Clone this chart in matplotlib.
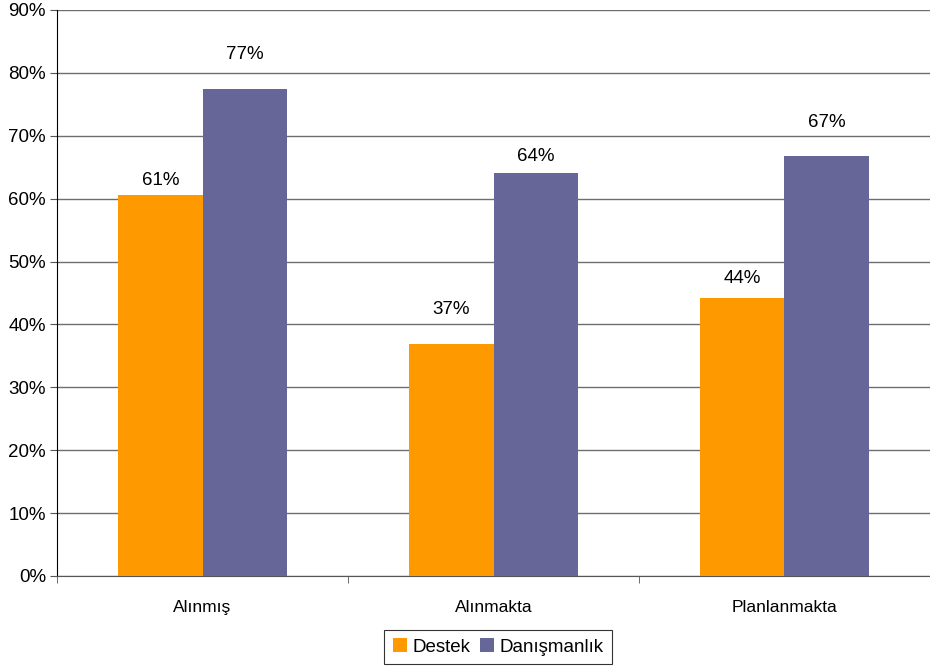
import matplotlib
matplotlib.use("Agg")
import matplotlib.pyplot as plt
import numpy as np

plt.rcParams['font.family'] = ['Liberation Sans', 'DejaVu Sans']

categories = ['Alınmış', 'Alınmakta', 'Planlanmakta']
destek = [60.6, 36.9, 44.2]
danismanlik = [77.4, 64.1, 66.8]
destek_labels = ['61%', '37%', '44%']
danismanlik_labels = ['77%', '64%', '67%']

# gap (in points) between bar top and label, Excel put them unevenly
destek_gap = [4, 19, 8]
danismanlik_gap = [19, 6, 18]

fig = plt.figure(figsize=(9.3, 6.71), dpi=100)
ax = fig.add_axes([57 / 930, 95 / 671, 873 / 930, 566 / 671])

x = np.arange(len(categories))
w = 0.289
b1 = ax.bar(x - w / 2, destek, w, color='#FF9900', label='Destek', zorder=3)
b2 = ax.bar(x + w / 2, danismanlik, w, color='#666699', label='Danışmanlık', zorder=3)

for rect, lab, g in zip(b1, destek_labels, destek_gap):
    ax.annotate(lab, (rect.get_x() + rect.get_width() / 2, rect.get_height()),
                xytext=(0, g), textcoords='offset points', ha='center', va='bottom',
                fontsize=13.5)
for rect, lab, g in zip(b2, danismanlik_labels, danismanlik_gap):
    ax.annotate(lab, (rect.get_x() + rect.get_width() / 2, rect.get_height()),
                xytext=(0, g), textcoords='offset points', ha='center', va='bottom',
                fontsize=13.5)

ax.set_ylim(0, 90)
# one category = 294 px, axes runs past the right edge of the image
ax.set_xlim(-0.5, -0.5 + 873 / 294)
ax.set_yticks(np.arange(0, 91, 10))
ax.set_yticklabels([f'{v}%' for v in range(0, 91, 10)], fontsize=13.5)
ax.set_xticks(x)
ax.set_xticklabels(categories, fontsize=12.5)
ax.set_xticks(np.arange(-0.5, 3, 1), minor=True)
ax.tick_params(axis='x', which='major', length=0, pad=17)
ax.tick_params(axis='x', which='minor', length=5, color='#555555')
ax.tick_params(axis='y', length=5, color='#555555', pad=3)
ax.grid(axis='y', color='#6e6e6e', linewidth=1, zorder=0)
for s in ['top', 'right']:
    ax.spines[s].set_visible(False)
ax.spines['left'].set_color('#000000')
ax.spines['bottom'].set_color('#555555')

leg = fig.legend(loc='center', bbox_to_anchor=(498 / 930, 1 - 647 / 671), ncol=2,
                 fontsize=13.5, frameon=True, fancybox=False, edgecolor='#000000',
                 handlelength=0.75, handleheight=0.75, handletextpad=0.3,
                 columnspacing=0.5, borderpad=0.45)
leg.get_frame().set_linewidth(0.8)

fig.savefig('out.png', dpi=100)
